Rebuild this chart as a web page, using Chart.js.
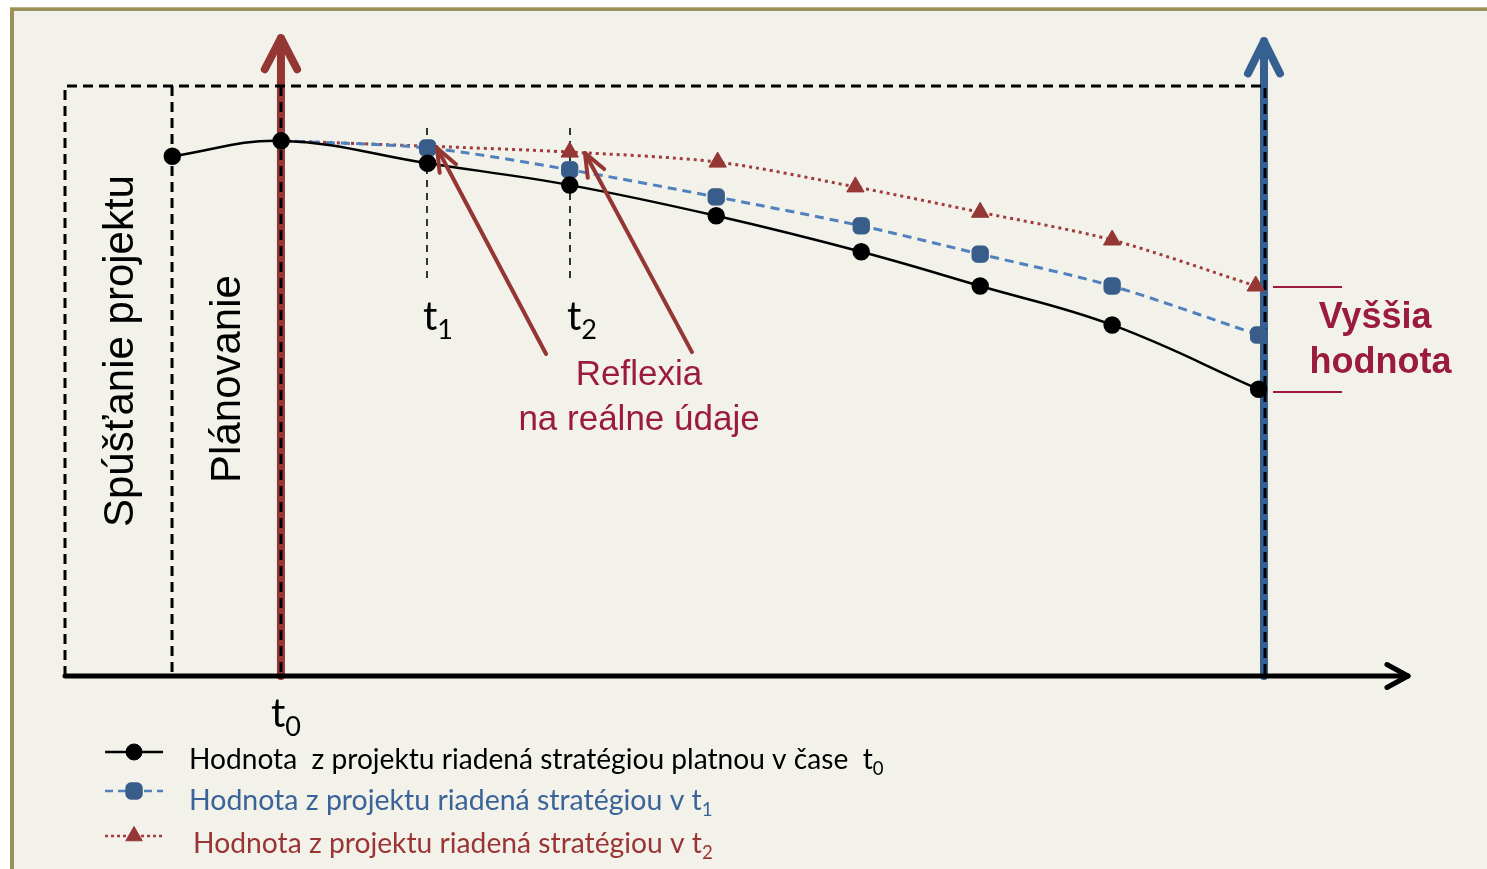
<!DOCTYPE html>
<html><head><meta charset="utf-8">
<script src="https://cdn.jsdelivr.net/npm/chart.js@4/dist/chart.umd.min.js"></script>
<style>html,body{margin:0;padding:0;background:#fff;overflow:hidden}canvas{display:block}</style>
</head><body><canvas id="c" width="1487" height="869"></canvas>
<script>
// ---- data (time units along x, value units along y) ----
const timesT0  = [0.74, 1.49, 2.50, 3.48, 4.49, 5.49, 6.31, 7.22, 8.23];
const valuesT0 = [8.81, 9.07, 8.69, 8.32, 7.80, 7.19, 6.61, 5.95, 4.86];
const timesT1  = [1.49, 2.50, 3.48, 4.49, 5.49, 6.31, 7.22, 8.23];
const valuesT1 = [9.07, 8.95, 8.58, 8.12, 7.63, 7.15, 6.61, 5.78];
const timesT2  = [1.49, 2.50, 3.48, 4.50, 5.45, 6.31, 7.22, 8.21];
const valuesT2 = [9.07, 8.98, 8.88, 8.71, 8.29, 7.86, 7.39, 6.61];
const tickLabels = [['t','0'], ['t','1'], ['t','2']];
const legendLabels = [
  ['Hodnota  z projektu riadená stratégiou platnou v čase  t', '0'],
  ['Hodnota z projektu riadená stratégiou v t', '1'],
  ['Hodnota z projektu riadená stratégiou v t', '2']
];
const phaseLabels = ['Spúšťanie projektu', 'Plánovanie'];
const noteLabels = ['Reflexia', 'na reálne údaje'];
const valueLabels = ['Vyššia', 'hodnota'];

// ---- layout (data units) ----
const L = {
  boxRight: 8.274, boxTop: 10, startLine: 0.738, t0Line: 1.489,
  redArrowX: 1.489, redArrowTip: 10.81, blueArrowX: 8.267, blueArrowTip: 10.76, axisEnd: 9.26,
  tLines: [2.496, 3.482], tLineTop: 9.29, tLineBot: 6.71,
  tLabelPos: [[1.420, -0.864], [2.468, 5.864], [3.461, 5.864]],
  refl: [[3.317, 5.458, 2.565, 8.949], [4.323, 5.49, 3.585, 8.864]],
  noteX: 3.958, noteY: [4.932, 4.169],
  valX: [9.033, 9.071], valY: [5.898, 5.136],
  brX: [8.329, 8.805], brY: [6.593, 4.814],
  phaseX: [0.469, 1.207], phaseY: [5.508, 5.034],
  legLine: [0.276, 0.676], legMark: 0.476, legMarkY: [-1.288, -1.949, -2.712],
  legTextX: [0.855, 0.855, 0.883], legTextY: [-1.576, -2.271, -3.0], legWidth: [684, 513, 509]
};

const C = {
  bg: '#F2F1EA', frame: '#9C9259', black: '#000000',
  blueLine: '#4F81BD', blueMark: '#385D8A', redLine: '#A23B3B', redMark: '#953735',
  redArrow: '#943634', blueArrow: '#36608F', crimson: '#9B1B3C', legBlue: '#3A6497', legRed: '#9B3434'
};

function pts(xs, ys){ return xs.map((x,i)=>({x:x, y:ys[i]})); }

function chevron(ctx, x1, y1, x2, y2, w, len, ang, color){
  const a = Math.atan2(y1 - y2, x1 - x2);
  ctx.save();
  ctx.strokeStyle = color; ctx.lineWidth = w; ctx.lineCap = 'round'; ctx.lineJoin = 'round';
  ctx.setLineDash([]);
  ctx.beginPath(); ctx.moveTo(x1, y1); ctx.lineTo(x2, y2); ctx.stroke();
  ctx.beginPath();
  ctx.moveTo(x2 + len*Math.cos(a+ang), y2 + len*Math.sin(a+ang));
  ctx.lineTo(x2, y2);
  ctx.lineTo(x2 + len*Math.cos(a-ang), y2 + len*Math.sin(a-ang));
  ctx.stroke();
  ctx.restore();
}

function subText(ctx, x, y, main, sub, size, subSize, color, family, align){
  ctx.font = size + 'px ' + family; const w1 = ctx.measureText(main).width;
  ctx.font = subSize + 'px ' + family; const w2 = ctx.measureText(sub).width;
  const x0 = align === 'center' ? x - (w1 + w2)/2 : x;
  ctx.fillStyle = color; ctx.textAlign = 'left'; ctx.textBaseline = 'alphabetic';
  ctx.font = size + 'px ' + family; ctx.fillText(main, x0, y);
  ctx.font = subSize + 'px ' + family; ctx.fillText(sub, x0 + w1, y + subSize*0.32);
}

const deco = {
  id: 'deco',
  beforeDraw(chart){
    const ctx = chart.ctx, W = chart.width, H = chart.height;
    ctx.save();
    ctx.fillStyle = '#ffffff'; ctx.fillRect(0,0,W,H);
    ctx.fillStyle = C.frame; ctx.fillRect(10,7,W,H);
    ctx.fillStyle = '#B8B189'; ctx.fillRect(10,7,W,1);
    ctx.fillStyle = C.bg; ctx.fillRect(14,11,W,H);
    ctx.restore();
  },
  beforeDatasetsDraw(chart){
    const ctx = chart.ctx, xs = chart.scales.x, ys = chart.scales.y;
    const X = v => xs.getPixelForValue(v), Y = v => ys.getPixelForValue(v);
    chevron(ctx, X(L.redArrowX), Y(0), X(L.redArrowX), Y(L.redArrowTip), 8, 35, 0.48, C.redArrow);
    chevron(ctx, X(L.blueArrowX), Y(0), X(L.blueArrowX), Y(L.blueArrowTip), 8, 36, 0.46, C.blueArrow);
    ctx.save();
    ctx.strokeStyle = '#000'; ctx.lineWidth = 3; ctx.setLineDash([10,6]);
    ctx.beginPath();
    ctx.moveTo(X(0), Y(0)); ctx.lineTo(X(0), Y(L.boxTop)); ctx.lineTo(X(L.boxRight), Y(L.boxTop)); ctx.lineTo(X(L.boxRight), Y(0));
    ctx.moveTo(X(L.startLine), Y(L.boxTop)); ctx.lineTo(X(L.startLine), Y(0));
    ctx.moveTo(X(L.t0Line), Y(L.boxTop)); ctx.lineTo(X(L.t0Line), Y(0));
    ctx.stroke();
    ctx.lineWidth = 2; ctx.strokeStyle = '#333'; ctx.setLineDash([7,6]);
    ctx.beginPath();
    L.tLines.forEach(t => { ctx.moveTo(X(t), Y(L.tLineTop)); ctx.lineTo(X(t), Y(L.tLineBot)); });
    ctx.stroke();
    ctx.restore();
    chevron(ctx, X(0), Y(0), X(L.axisEnd), Y(0), 5, 24, 0.5, '#000');
  },
  afterDatasetsDraw(chart){
    const ctx = chart.ctx, xs = chart.scales.x, ys = chart.scales.y;
    const X = v => xs.getPixelForValue(v), Y = v => ys.getPixelForValue(v);
    L.refl.forEach(r => chevron(ctx, X(r[0]), Y(r[1]), X(r[2]), Y(r[3]), 4, 25, 0.38, C.redArrow));
    ctx.save();
    tickLabels.forEach((t,i) => subText(ctx, X(L.tLabelPos[i][0]), Y(L.tLabelPos[i][1]), t[0], t[1], 40, 27, '#000', 'Lato', 'left'));
    ctx.fillStyle = '#000'; ctx.font = '42px "Liberation Sans"'; ctx.textAlign = 'center'; ctx.textBaseline = 'alphabetic';
    phaseLabels.forEach((s,i) => {
      ctx.save(); ctx.translate(X(L.phaseX[i]), Y(L.phaseY[i])); ctx.rotate(-Math.PI/2);
      ctx.fillText(s, 0, 0); ctx.restore();
    });
    ctx.fillStyle = C.crimson; ctx.font = '35px "Liberation Sans"'; ctx.textAlign = 'center';
    noteLabels.forEach((s,i) => ctx.fillText(s, X(L.noteX), Y(L.noteY[i])));
    ctx.font = 'bold 36px "Liberation Sans"';
    valueLabels.forEach((s,i) => ctx.fillText(s, X(L.valX[i]), Y(L.valY[i])));
    ctx.strokeStyle = C.crimson; ctx.lineWidth = 2;
    ctx.beginPath();
    L.brY.forEach(y => { ctx.moveTo(X(L.brX[0]), Y(y)); ctx.lineTo(X(L.brX[1]), Y(y)); });
    ctx.stroke();
    ctx.restore();
    const ds = chart.data.datasets;
    const legColors = ['#000', C.legBlue, C.legRed];
    const legDash = [[], [8,5], [3,3]];
    ds.forEach((d,i) => {
      const my = Y(L.legMarkY[i]);
      ctx.save();
      ctx.strokeStyle = d.borderColor; ctx.lineWidth = i === 0 ? 2.5 : 2.5; ctx.setLineDash(legDash[i]);
      ctx.beginPath(); ctx.moveTo(X(L.legLine[0]), my); ctx.lineTo(X(L.legLine[1]), my); ctx.stroke();
      ctx.setLineDash([]);
      ctx.fillStyle = d.pointBackgroundColor; ctx.strokeStyle = d.pointBorderColor; ctx.lineWidth = 1;
      Chart.helpers.drawPoint(ctx, {pointStyle: d.pointStyle, radius: d.pointStyle==='circle'?8:9.5, rotation: 0, borderWidth: 1}, X(L.legMark), my);
      const fam = 'Lato';
      ctx.font = '100px ' + fam;
      const w = ctx.measureText(legendLabels[i][0]).width;
      const size = 100 * L.legWidth[i] / w;
      subText(ctx, X(L.legTextX[i]), Y(L.legTextY[i]), legendLabels[i][0], legendLabels[i][1], size, size*0.66, legColors[i], fam, 'left');
      ctx.restore();
    });
  }
};

new Chart(document.getElementById('c'), {
  type: 'line',
  data: {
    datasets: [
      { label: 'Hodnota z projektu riadená stratégiou platnou v čase t0', data: pts(timesT0, valuesT0),
        borderColor: C.black, borderWidth: 2.5, pointStyle: 'circle',
        pointRadius: 7.5, pointBackgroundColor: C.black, pointBorderColor: C.black, tension: 0.4, clip: false },
      { label: 'Hodnota z projektu riadená stratégiou v t1', data: pts(timesT1, valuesT1),
        borderColor: C.blueLine, borderWidth: 3, borderDash: [9,6], pointStyle: 'rectRounded',
        pointRadius: [0,9.5,9.5,9.5,9.5,9.5,9.5,9.5], pointBackgroundColor: C.blueMark, pointBorderColor: C.blueMark, pointBorderWidth: 1,
        tension: 0.3, clip: false },
      { label: 'Hodnota z projektu riadená stratégiou v t2', data: pts(timesT2, valuesT2),
        borderColor: C.redLine, borderWidth: 3, borderDash: [3,4], pointStyle: 'triangle',
        pointRadius: [0,0,10,10,10,10,10,10], pointBackgroundColor: C.redMark, pointBorderColor: C.redMark, pointBorderWidth: 1,
        tension: 0.3, clip: false }
    ]
  },
  options: {
    responsive: false, animation: false, devicePixelRatio: 1,
    layout: { padding: { left: 65, right: 79, top: 86, bottom: 193 } },
    scales: {
      x: { type: 'linear', min: 0, max: 9.26, display: false },
      y: { type: 'linear', min: 0, max: 10, display: false }
    },
    plugins: { legend: { display: false }, tooltip: { enabled: false } }
  },
  plugins: [deco]
});
</script>
</body></html>
